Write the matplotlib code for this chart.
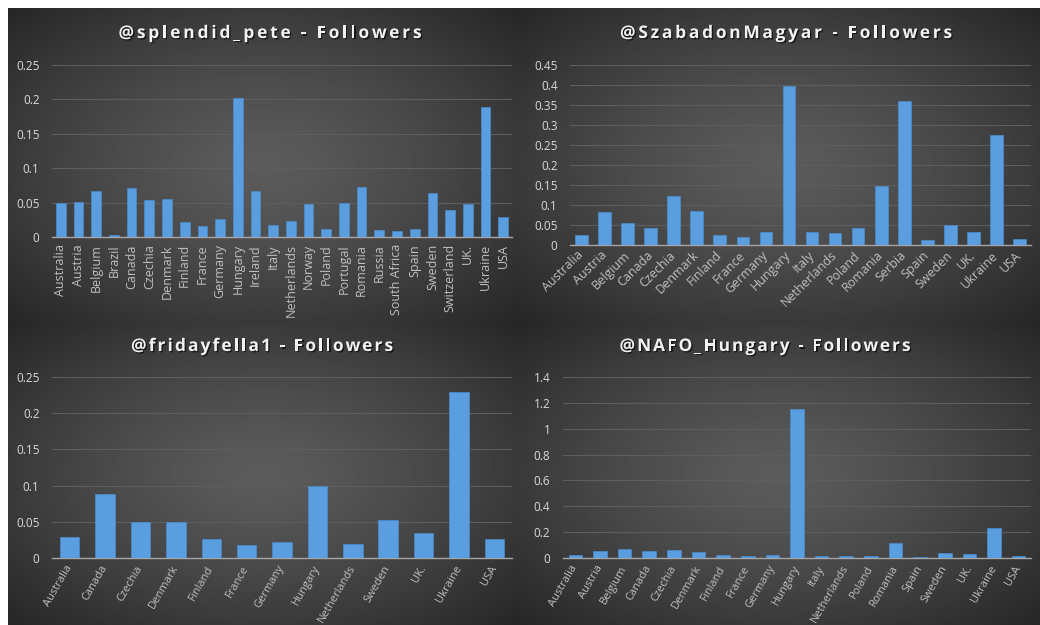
import numpy as np
import matplotlib
matplotlib.use("Agg")
import matplotlib.pyplot as plt
import matplotlib.patheffects as pe

plt.rcParams['font.family'] = ['Open Sans', 'DejaVu Sans']

# ---- data ----
pete_countries = ["Australia", "Austria", "Belgium", "Brazil", "Canada", "Czechia",
                  "Denmark", "Finland", "France", "Germany", "Hungary", "Ireland",
                  "Italy", "Netherlands", "Norway", "Poland", "Portugal", "Romania",
                  "Russia", "South Africa", "Spain", "Sweden", "Switzerland", "UK.",
                  "Ukraine", "USA"]
pete_values = [0.049, 0.051, 0.067, 0.003, 0.071, 0.054, 0.056, 0.022, 0.016, 0.026,
               0.202, 0.067, 0.018, 0.024, 0.048, 0.012, 0.049, 0.073, 0.010, 0.009,
               0.012, 0.064, 0.040, 0.048, 0.189, 0.030]

szab_countries = ["Australia", "Austria", "Belgium", "Canada", "Czechia", "Denmark",
                  "Finland", "France", "Germany", "Hungary", "Italy", "Netherlands",
                  "Poland", "Romania", "Serbia", "Spain", "Sweden", "UK.", "Ukraine", "USA"]
szab_values = [0.026, 0.082, 0.055, 0.042, 0.123, 0.085, 0.025, 0.020, 0.032, 0.397,
               0.032, 0.029, 0.042, 0.148, 0.359, 0.012, 0.050, 0.032, 0.275, 0.015]

friday_countries = ["Australia", "Canada", "Czechia", "Denmark", "Finland", "France",
                    "Germany", "Hungary", "Netherlands", "Sweden", "UK.", "Ukraine", "USA"]
friday_values = [0.028, 0.088, 0.049, 0.049, 0.026, 0.017, 0.022, 0.099, 0.019, 0.052,
                 0.034, 0.229, 0.026]

nafo_countries = ["Australia", "Austria", "Belgium", "Canada", "Czechia", "Denmark",
                  "Finland", "France", "Germany", "Hungary", "Italy", "Netherlands",
                  "Poland", "Romania", "Spain", "Sweden", "UK.", "Ukraine", "USA"]
nafo_values = [0.020, 0.054, 0.065, 0.054, 0.062, 0.047, 0.020, 0.013, 0.020, 1.152,
               0.013, 0.013, 0.013, 0.114, 0.005, 0.039, 0.031, 0.233, 0.013]

W, H = 1040, 625
fig = plt.figure(figsize=(W / 100, H / 100), dpi=100)
fig.patch.set_facecolor("white")
renderer = fig.canvas.get_renderer()


def px_rect(x0, y0, x1, y1):
    # pixel box (top-left origin) -> figure fraction rect
    return [x0 / W, 1 - y1 / H, (x1 - x0) / W, (y1 - y0) / H]


def panel_background(rect):
    bg = fig.add_axes(rect, zorder=0)
    yy, xx = np.mgrid[-1:1:200j, -1:1:300j]
    r = np.clip(np.sqrt(xx ** 2 + yy ** 2) / np.sqrt(2), 0, 1)
    shade = 0.36 - 0.21 * r ** 1.3
    bg.imshow(shade, cmap="gray", vmin=0, vmax=1, aspect="auto",
              extent=[0, 1, 0, 1], interpolation="bilinear")
    bg.set_axis_off()


def text_width(s, **kw):
    t = fig.text(0, 0, s, **kw)
    w = t.get_window_extent(renderer).width
    t.remove()
    return w


def spaced_title(xc, yc, s, target_w):
    # excel-like letter spaced title, drawn char by char
    kw = dict(fontsize=12.5, fontweight="bold")
    bar_w = text_width("|", **kw)
    adv = [text_width(s[:i] + "|", **kw) - bar_w for i in range(len(s))]
    natural = text_width(s, **kw)
    track = max(0.0, (target_w - natural) / (len(s) - 1))
    x0 = xc - (natural + track * (len(s) - 1)) / 2
    for i, ch in enumerate(s):
        if ch == " ":
            continue
        fig.text((x0 + adv[i] + i * track) / W, 1 - yc / H, ch, ha="left",
                 va="center", color="#f2f2f2", zorder=5, **kw,
                 path_effects=[pe.withSimplePatchShadow(offset=(1, -1),
                                                        shadow_rgbFace="black",
                                                        alpha=0.6)])


panels = [
    (px_rect(8, 8, 518, 322), px_rect(52, 64.7, 512, 237.3), (270, 33, 303),
     "@splendid_pete - Followers", pete_countries, pete_values, 0.25, 0.05, 90, 9),
    (px_rect(518, 8, 1040, 322), px_rect(570, 64.7, 1031, 245), (786, 33, 332),
     "@SzabadonMagyar - Followers", szab_countries, szab_values, 0.45, 0.05, 45, 9),
    (px_rect(8, 322, 518, 625), px_rect(52, 377.3, 512, 557.7), (262, 346, 262),
     "@fridayfella1 - Followers", friday_countries, friday_values, 0.25, 0.05, 60, 8),
    (px_rect(518, 322, 1040, 625), px_rect(563, 377.3, 1031, 557.7), (765, 346, 291),
     "@NAFO_Hungary - Followers", nafo_countries, nafo_values, 1.4, 0.2, 60, 8),
]

for bg_rect, ax_rect, (tx, ty, tw), title, cats, vals, ymax, step, rot, lsize in panels:
    panel_background(bg_rect)
    ax = fig.add_axes(ax_rect, zorder=2)
    ax.patch.set_alpha(0)
    x = np.arange(len(cats))
    ax.bar(x, vals, width=0.55, color="#5a9ee0", edgecolor="#4a8cd0",
           linewidth=0.5, zorder=3)
    ax.set_xlim(-0.5, len(cats) - 0.5)
    ax.set_ylim(0, ymax)
    ticks = np.round(np.arange(0, ymax + step / 2, step), 3)
    ax.set_yticks(ticks)
    ax.set_yticklabels([f"{t:g}" for t in ticks])
    ax.yaxis.grid(True, color="#5e5e5e", linewidth=0.8, zorder=1)
    ax.set_axisbelow(True)
    for s in ["top", "right", "left"]:
        ax.spines[s].set_visible(False)
    ax.spines["bottom"].set_color("#a6a6a6")
    ax.spines["bottom"].set_linewidth(1.0)
    ax.tick_params(axis="y", length=0, pad=9, labelsize=8.5, labelcolor="#d9d9d9")
    ax.tick_params(axis="x", length=0, labelsize=lsize, labelcolor="#c0c0c0")
    ax.set_xticks(x)
    if rot == 90:
        ax.set_xticklabels(cats, rotation=90, ha="center", va="top")
        ax.tick_params(axis="x", pad=5)
    else:
        ax.set_xticklabels(cats, rotation=rot, ha="right", va="center",
                           rotation_mode="anchor")
        ax.tick_params(axis="x", pad=6)
    spaced_title(tx, ty, title, tw)

fig.savefig("out.png", dpi=100, facecolor=fig.get_facecolor())
